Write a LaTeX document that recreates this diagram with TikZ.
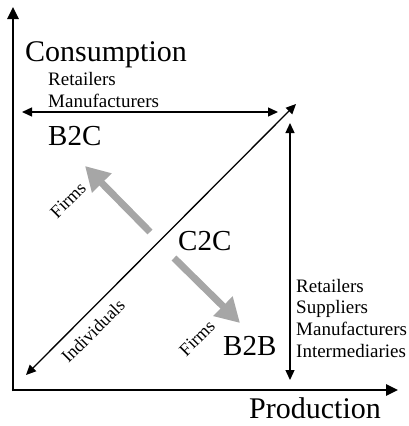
\documentclass[tikz,border=0pt]{standalone}
\usepackage{fontspec}
\setmainfont{Liberation Serif}
\usetikzlibrary{arrows.meta,calc}
\begin{document}
\begin{tikzpicture}[x=1pt,y=-1pt,
  axis/.style={line width=2.6pt,-{Triangle[length=12pt,width=11pt]}},
  flow/.style={line width=1.3pt,{Triangle[length=10pt,width=9pt]}-{Triangle[length=10pt,width=9pt]}},
  move/.style={line width=7pt,draw=black!35,-{Triangle[length=24pt,width=26pt]}},
  big/.style={font=\fontsize{30}{34}\selectfont,inner sep=0pt,anchor=base west},
  mid/.style={font=\fontsize{29}{33}\selectfont,inner sep=0pt,anchor=base west},
  small/.style={font=\fontsize{19}{22}\selectfont,inner sep=0pt,anchor=base west},
  tilt/.style={font=\fontsize{18}{21}\selectfont,inner sep=0pt,rotate=45}]
\useasboundingbox (0,0) rectangle (408,426);

% axes
\coordinate (origin) at (13,390);
\coordinate (ytop) at (13,7);
\coordinate (xend) at (398,390);
\draw[axis] ($(origin)+(0,1.3)$) -- (ytop);
\draw[axis] ($(origin)+(-1.3,0)$) -- (xend);

% flows
\coordinate (hl) at (22,112);
\coordinate (hr) at (278,112);
\coordinate (dl) at (26,375);
\coordinate (dr) at (296,104);
\coordinate (vt) at (290,123);
\coordinate (vb) at (290,380);
\draw[flow] (hl) -- (hr);
\draw[flow] (dl) -- (dr);
\draw[flow] (vt) -- (vb);

% moves away from C2C
\coordinate (ua) at (150,232);
\coordinate (ub) at (85,166);
\coordinate (la) at (174,258);
\coordinate (lb) at (240,323);
\draw[move] (ua) -- (ub);
\draw[move] (la) -- (lb);

% labels
\node[big] (cons) at (25,61) {Consumption};
\node[big] (prod) at (249,418) {Production};
\node[small] (r1) at (48,85) {Retailers};
\node[small] (r2) at (48,107) {Manufacturers};
\node[mid] (b2c) at (48,145) {B2C};
\node[mid] (c2c) at (178,250) {C2C};
\node[mid] (b2b) at (223,355) {B2B};
\node[small] (s1) at (296,292) {Retailers};
\node[small] (s2) at (296,313) {Suppliers};
\node[small] (s3) at (296,335) {Manufacturers};
\node[small] (s4) at (296,357) {Intermediaries};
\node[tilt] (f1) at (68,200) {Firms};
\node[tilt] (f2) at (197,338) {Firms};
\node[tilt] (ind) at (93,331) {Individuals};
\end{tikzpicture}
\end{document}
